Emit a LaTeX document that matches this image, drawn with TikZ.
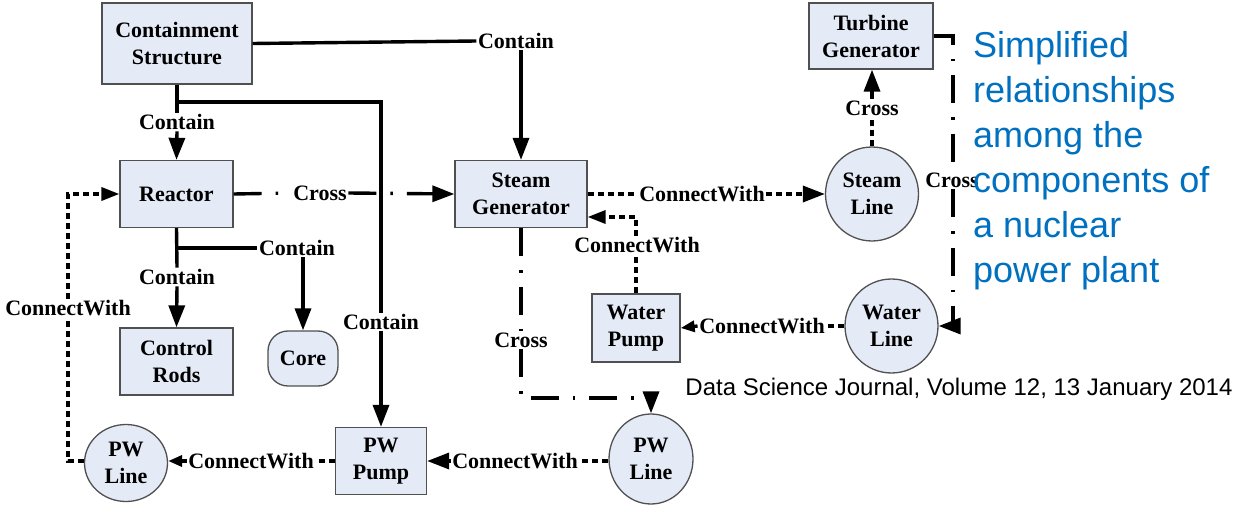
\documentclass[tikz,border=0pt]{standalone}
\usepackage{fontspec}
\setmainfont{Liberation Serif}
\newfontfamily\capfont{Liberation Sans}
\usetikzlibrary{shapes.geometric,arrows.meta}
\definecolor{boxfill}{RGB}{228,234,246}
\definecolor{boxline}{RGB}{80,80,80}
\definecolor{noteblue}{RGB}{0,112,192}
\newcommand\diagfont{\fontsize{22pt}{27pt}\selectfont\bfseries}
\tikzset{
  BigTri/.tip={Triangle[length=22pt,width=16pt]},
  MidTri/.tip={Triangle[length=18pt,width=13pt]},
  SmallTri/.tip={Triangle[length=14pt,width=11pt]},
}
\begin{document}
\begin{tikzpicture}[x=1pt,y=-1pt,
  box/.style={draw=boxline,fill=boxfill,line width=1.3pt,inner sep=0pt,align=center,font=\diagfont},
  circ/.style={box,ellipse},
  lab/.style={inner sep=1.5pt,font=\diagfont},
  link/.style={line width=3.4pt},
  dashlink/.style={link,dash pattern=on 6pt off 4pt},
  crosslink/.style={link,dash pattern=on 28pt off 14pt on 2.5pt off 14pt},
]
\fill[white] (0,0) rectangle (1242,505);
\useasboundingbox (0,0) rectangle (1242,505);

% components
\node[box,minimum width=150pt,minimum height=81pt] (cs) at (177,43.5) {Containment\\Structure};
\node[box,minimum width=113pt,minimum height=67pt] (reactor) at (176.5,194) {Reactor};
\node[box,minimum width=132pt,minimum height=67pt] (sg) at (521,194) {Steam\\Generator};
\node[box,minimum width=113pt,minimum height=67pt] (rods) at (176.5,361.5) {Control\\Rods};
\node[box,rounded corners=20pt,minimum width=70pt,minimum height=55pt] (core) at (303,358.5) {Core};
\node[box,minimum width=88pt,minimum height=68pt] (wpump) at (636,328) {Water\\Pump};
\node[box,minimum width=91pt,minimum height=67pt] (pwpump) at (381,461) {PW\\Pump};
\node[box,minimum width=124pt,minimum height=66pt] (turb) at (871,36) {Turbine\\Generator};
\node[circ,minimum width=93pt,minimum height=94pt] (sline) at (872,194) {Steam\\Line};
\node[circ,minimum width=93pt,minimum height=94pt] (wline) at (891.5,326) {Water\\Line};
\node[circ,minimum width=83pt,minimum height=77pt] (pwl) at (126,463) {PW\\Line};
\node[circ,minimum width=84pt,minimum height=90pt] (pwr) at (651,459) {PW\\Line};

% relationship labels
\node[lab] (cTop) at (516,41) {Contain};
\node[lab] (cReact) at (177,122) {Contain};
\node[lab] (cPump) at (381,322) {Contain};
\node[lab] (cross1) at (320,193) {Cross};
\node[lab] (cCore) at (297,248) {Contain};
\node[lab] (cRods) at (177,277) {Contain};
\node[lab] (cw1) at (702,194) {ConnectWith};
\node[lab] (cw2) at (637,245) {ConnectWith};
\node[lab] (cr2) at (872,108) {Cross};
\node[lab] (cr3) at (952,180) {Cross};
\node[lab] (cw3) at (762,326) {ConnectWith};
\node[lab] (cr4) at (521,340) {Cross};
\node[lab] (cw4) at (515,461) {ConnectWith};
\node[lab] (cw5) at (251,461) {ConnectWith};
\node[lab] (cw6) at (68,308) {ConnectWith};

\coordinate (jA) at (177,102);
\coordinate (jB) at (177,248);
\coordinate (jC) at (636,217);
\coordinate (jF) at (651,398);

% containment
\draw[link] (cs.east) -- (cTop.west);
\draw[link,-BigTri] (sg.north |- cTop.south) -- (sg.north);
\draw[link] (cs.south) -- (cReact.north);
\draw[link,-BigTri] (cReact.south) -- (reactor.north);
\draw[link] (jA) -| (cPump.north);
\draw[link,-BigTri] (cPump.south) -- (pwpump.north);
\draw[link] (reactor.south) -- (cRods.north);
\draw[link,-BigTri] (cRods.south) -- (rods.north);
\draw[link] (jB) -- (cCore.west);
\draw[link,-BigTri] (core.north |- cCore.south) -- (core.north);

% crossings
\draw[crosslink] (reactor.east) -- (cross1.west);
\draw[crosslink,-BigTri] (cross1.east) -- (sg.west);
\draw[dashlink] (sline.north) -- (cr2.south);
\draw[link,-BigTri] (cr2.north) -- (turb.south -| cr2.north);
\draw[crosslink] (turb.east) -| (953,0 |- cr3.north);
\draw[crosslink,-BigTri] (953,0 |- cr3.south) |- (wline.east);
\draw[crosslink] (sg.south) -- (cr4.north);
\draw[crosslink,-BigTri] (cr4.south) |- (jF) -- (pwr.north);

% connections
\draw[dashlink] (sg.east) -- (cw1.west);
\draw[dashlink,-BigTri] (cw1.east) -- (sline.west);
\draw[dashlink] (wpump.north) -- (wpump.north |- cw2.south);
\draw[dashlink,-MidTri] (wpump.north |- cw2.north) -- (jC) -- (sg.east |- jC);
\draw[dashlink] (wline.west) -- (cw3.east);
\draw[link,-SmallTri] (cw3.west) -- (wpump.east);
\draw[dashlink] (pwr.west |- cw4.east) -- (cw4.east);
\draw[link,-BigTri] (cw4.west) -- (pwpump.east);
\draw[dashlink] (pwpump.west) -- (cw5.east);
\draw[link,-SmallTri] (cw5.west) -- (cw5.west -| pwl.east);
\draw[dashlink] (pwl.west |- cw5.west) -| (cw6.south);
\draw[dashlink,-MidTri] (cw6.north) |- (reactor.west);

% source and note
\node[font=\capfont\fontsize{24pt}{28pt}\selectfont,inner sep=0pt] (src) at (959,389) {Data Science Journal, Volume 12, 13 January 2014};
\node[font=\capfont\fontsize{36pt}{45pt}\selectfont,text=noteblue,align=left,anchor=north west,inner sep=0pt] (note) at (973,31) {Simplified\\relationships\\among the\\components of\\a nuclear\\power plant};
\end{tikzpicture}
\end{document}
